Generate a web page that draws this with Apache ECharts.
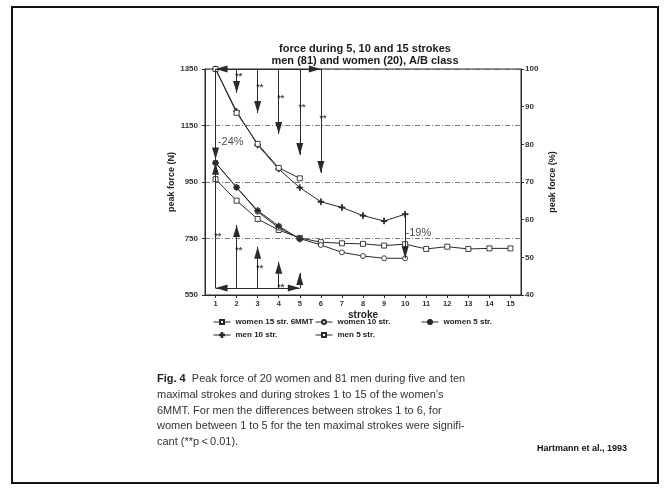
<!DOCTYPE html>
<html><head><meta charset="utf-8">
<script src="https://cdn.jsdelivr.net/npm/echarts@6/dist/echarts.min.js"></script>
<style>html,body{margin:0;padding:0;background:#fff}#c{width:664px;height:488px}</style>
</head><body><div id="c"></div>
<script>
// ---- data ----
const strokes = [1,2,3,4,5,6,7,8,9,10,11,12,13,14,15];
const menTen = [1350,1200,1081,996,930,880,860,831,812,836];
const menFive = [1350,1195,1085,1000,963];
const womenFifteen = [960,884,819,780,752,737,733,731,725,730,713,721,713,715,715];
const womenTen = [1018,931,845,788,750,727,701,688,680,680];
const womenFive = [1018,931,849,794,748];
const leftTicks = [550,750,950,1150,1350];
const rightTicks = [40,50,60,70,80,90,100];
const seriesNames = ['women 15 str. 6MMT','women 10 str.','women 5 str.','men 10 str.','men 5 str.'];

// significance annotations (stroke, N)
const menSigStrokes = [2,3,4,5,6];
const menSigTips = [1265,1194,1120,1046,982];
const menStarN = [1329,1290,1254,1219,1183];
const womenSigStrokes = [2,3,4,5];
const womenSigTips = [798,721,668,628];
const womenStarStrokes = [1,2,3,4];
const womenStarN = [765,713,650,585];
const menBracketN = 1350, womenBracketN = 575;
const firstDrop = [1350,1030], firstRise = [575,1018];
const tenthDrop = [836,680];
const pctNotes = [[1.72,1092,'-24%'],[10.63,769,'-19%']];

const titleLines = ['force during 5, 10 and 15 strokes','men (81) and women (20), A/B class'];
const captionLines = [
  '{b|Fig. 4}  Peak force of 20 women and 81 men during five and ten',
  'maximal strokes and during strokes 1 to 15 of the women\u2019s',
  '6MMT. For men the differences between strokes 1 to 6, for',
  'women between 1 to 5 for the ten maximal strokes were signifi-',
  'cant (**p\u2009<\u20090.01).'
];
const sourceText = 'Hartmann et al., 1993';

// ---- chart ----
const ink = '#2a2a2a';
const FONT = 'Liberation Sans, Arial, sans-serif';
const pts = vals => vals.map((v,i)=>[strokes[i], v]);
const plusPath = 'path://M0,4.3H10V5.7H0ZM4.3,0H5.7V10H4.3Z';
const starPath = 'path://M0,4.3H10V5.7H0ZM4.3,0H5.7V10H4.3ZM1.2,2L2,1.2L8.8,8L8,8.8ZM8,1.2L8.8,2L2,8.8L1.2,8Z';
const headPath = 'path://M5,14L10,28L0,28ZM5,0';
const head = {symbol: headPath, symbolSize: [7,24]};
function arrow(x1,y1,x2,y2,both){
  return [Object.assign({coord:[x1,y1]}, both ? head : {symbol:'none'}), Object.assign({coord:[x2,y2]}, head)];
}
const arrows = [];
arrows.push(arrow(1,menBracketN,6,menBracketN,true));
menSigStrokes.forEach((s,i)=>arrows.push(arrow(s,menBracketN,s,menSigTips[i])));
arrows.push(arrow(1,womenBracketN,5,womenBracketN,true));
womenSigStrokes.forEach((s,i)=>arrows.push(arrow(s,womenBracketN,s,womenSigTips[i])));
arrows.push(arrow(1,firstDrop[0],1,firstDrop[1]));
arrows.push(arrow(1,firstRise[0],1,firstRise[1]));
arrows.push(arrow(10,tenthDrop[0],10,tenthDrop[1]));

const notes = [];
menSigStrokes.forEach((s,i)=>notes.push({value:[s+0.1, menStarN[i]], label:{formatter:'**', fontSize:9, fontWeight:'bold', offset:[0,2]}}));
womenStarStrokes.forEach((s,i)=>notes.push({value:[s+0.1, womenStarN[i]], label:{formatter:'**', fontSize:9, fontWeight:'bold', offset:[0,2]}}));
pctNotes.forEach(p=>notes.push({value:[p[0],p[1]], label:{formatter:p[2], fontSize:11, fontWeight:'normal'}}));

function lineSeries(name, vals, symbol, fill, size){
  return {name, type:'line', data: pts(vals), symbol, symbolSize: size,
    itemStyle:{color: fill, borderColor: ink, borderWidth: 0.9},
    lineStyle:{color: ink, width: 1}, emphasis:{disabled:true}, z:3};
}

const legendPos = [[213,318],[315,318],[421,318],[213,331],[315,331]];

const option = {
  backgroundColor:'#fff',
  animation:false,
  textStyle:{fontFamily: FONT},
  grid:{left:205, right:143, top:69, bottom:193, show:true, borderColor:ink, borderWidth:1, backgroundColor:'transparent'},
  legend: seriesNames.map((n,i)=>({data:[n], left:legendPos[i][0], top:legendPos[i][1], padding:0,
    itemWidth:17, itemHeight:5, selectedMode:false, lineStyle:{width:1},
    textStyle:{fontSize:8, fontWeight:'bold', color:'#222', fontFamily: FONT}})),
  xAxis:{type:'value', min:0.5, max:15.5, name:'stroke', nameLocation:'middle', nameGap:15,
    nameTextStyle:{fontSize:10, fontWeight:'bold', color:'#222'},
    axisLine:{lineStyle:{color:ink, width:1}},
    axisTick:{customValues: strokes, length:3, lineStyle:{color:ink}},
    axisLabel:{customValues: strokes, fontSize:7.5, fontWeight:'bold', color:'#333', margin:5},
    splitLine:{show:false}},
  yAxis:[
    {type:'value', min:550, max:1350, interval:200, name:'peak force (N)', nameLocation:'middle', nameGap:27, nameRotate:90,
     nameTextStyle:{fontSize:9, fontWeight:'bold', color:'#222'},
     axisLine:{show:true, lineStyle:{color:ink, width:1}},
     axisTick:{show:true, length:3, lineStyle:{color:ink}},
     axisLabel:{fontSize:8, fontWeight:'bold', color:'#333', margin:7, formatter: v => String(v)},
     splitLine:{show:true, lineStyle:{color:'#555', width:0.8, type:[5,2,1,2]}}},
    {type:'value', min:40, max:100, interval:10, position:'right', name:'peak force (%)', nameLocation:'middle', nameGap:27, nameRotate:90,
     nameTextStyle:{fontSize:9, fontWeight:'bold', color:'#222'},
     axisLine:{show:true, lineStyle:{color:ink, width:1}},
     axisTick:{show:true, length:3, lineStyle:{color:ink}},
     axisLabel:{fontSize:8, fontWeight:'bold', color:'#333', margin:4, formatter: v => String(v)},
     splitLine:{show:false}}
  ],
  series:[
    lineSeries(seriesNames[0], womenFifteen, 'rect', '#fff', 5),
    lineSeries(seriesNames[1], womenTen, 'circle', '#fff', 5),
    lineSeries(seriesNames[2], womenFive, starPath, ink, 6),
    lineSeries(seriesNames[3], menTen, plusPath, ink, 6),
    lineSeries(seriesNames[4], menFive, 'rect', '#fff', 5),
    {name:'annot', type:'scatter', data: notes, symbolSize:0, itemStyle:{color:ink}, z:5,
     label:{show:true, position:'inside', color:'#222', fontFamily: FONT},
     emphasis:{disabled:true}, silent:true,
     markLine:{silent:true, symbol:['none','none'], label:{show:false}, itemStyle:{color:ink},
       lineStyle:{color:ink, width:1, type:'solid'}, emphasis:{disabled:true}, animation:false, data: arrows}}
  ],
  graphic:[
    {type:'rect', shape:{x:12, y:7, width:646, height:476}, style:{fill:null, stroke:'#111', lineWidth:2}},
    {type:'text', x:365, y:43, style:{text:titleLines[0], font:'bold 11px '+FONT, fill:'#1a1a1a', textAlign:'center'}},
    {type:'text', x:365, y:55, style:{text:titleLines[1], font:'bold 11px '+FONT, fill:'#1a1a1a', textAlign:'center'}},
    {type:'text', x:157, y:371, style:{text:captionLines.join('\n'), font:'11px '+FONT, fill:'#333', lineHeight:15.8,
      rich:{b:{font:'bold 11px '+FONT, fill:'#222', lineHeight:15.8}}}},
    {type:'text', x:627, y:444, style:{text:sourceText, font:'bold 9px '+FONT, fill:'#111', textAlign:'right'}}
  ]
};
const chart = echarts.init(document.getElementById('c'), null, {renderer:'canvas'});
chart.setOption(option);
</script>
</body></html>
